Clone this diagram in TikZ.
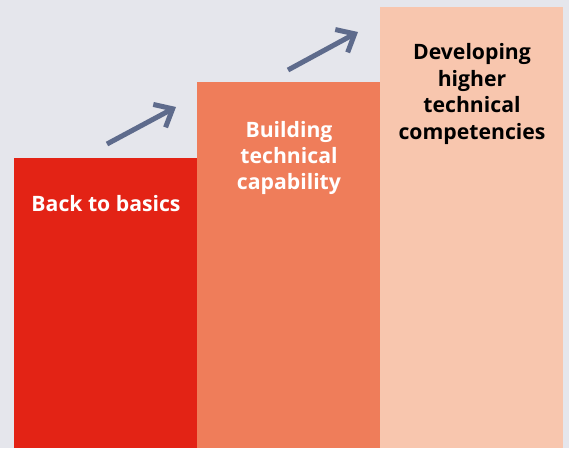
\documentclass[tikz,border=0pt]{standalone}
\usepackage{fontspec}
\setmainfont{Open Sans}
\usepackage{tikz}
\usetikzlibrary{arrows.meta,positioning}
\definecolor{bgcol}{HTML}{E5E6EC}
\definecolor{redbar}{HTML}{E32315}
\definecolor{orangebar}{HTML}{EF7D5A}
\definecolor{peachbar}{HTML}{F8C6AE}
\definecolor{arrowcol}{HTML}{5E6B8C}

\begin{document}
\begin{tikzpicture}[x=1pt,y=-1pt,>={Straight Barb[length=15pt,width=26pt]},
                    bar/.style={draw=none,inner sep=0pt,minimum width=183pt,anchor=north west},
                    lbl/.style={align=center,inner sep=0pt,font=\bfseries\fontsize{21.2}{26.4}\selectfont},
                    climb/.style={->,line width=5pt,draw=arrowcol}]
%  background and fixed size
  \fill[bgcol] (0,0) rectangle (569,448);
  \useasboundingbox (0,0) rectangle (569,448);

  \node[bar,fill=redbar,minimum height=290pt]    (basics)  at (14,158)  {};
  \node[bar,fill=orangebar,minimum height=366pt] (building) at (197,82) {};
  \node[bar,fill=peachbar,minimum height=441pt]  (higher)  at (380,7)   {};

  \node[lbl,text=white] (basicsT)   at (106,204) {Back to basics};
  \node[lbl,text=white] (buildingT) at (289,158) {Building\\technical\\capability};
  \node[lbl,text=black] (higherT)   at (472,94)  {Developing\\higher\\technical\\competencies};

  \coordinate (s1) at (107,144);
  \coordinate (e1) at (176,107);
  \coordinate (s2) at (288,70);
  \coordinate (e2) at (358,32);

  \draw[climb] (s1) -- (e1);
  \draw[climb] (s2) -- (e2);

\end{tikzpicture}
\end{document}
